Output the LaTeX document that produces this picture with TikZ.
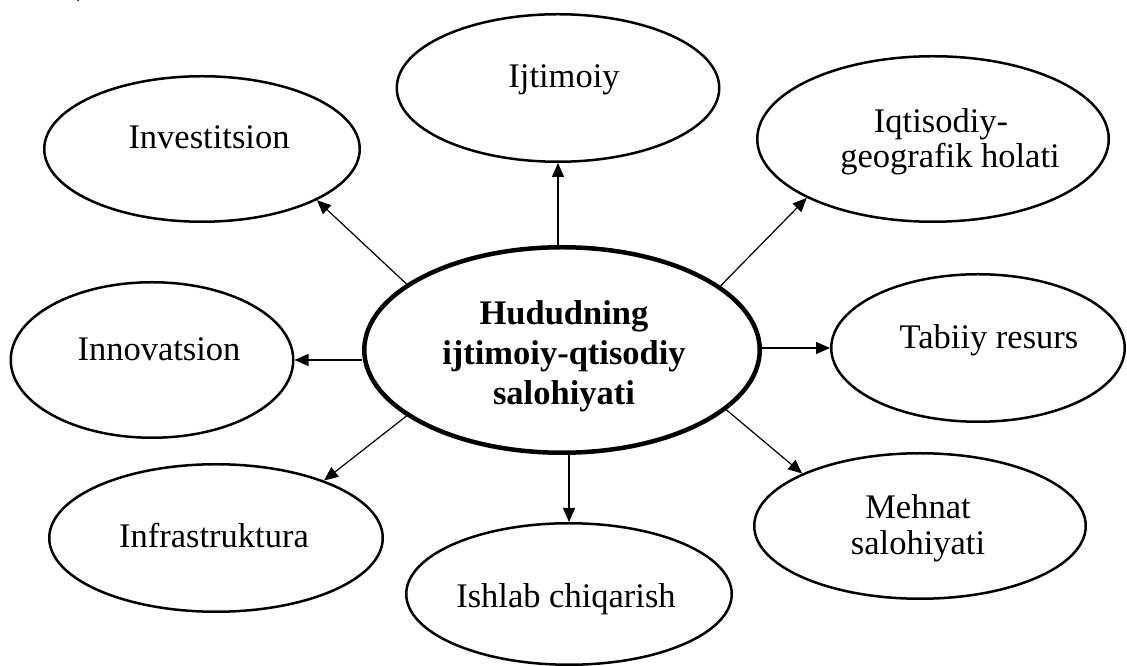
\documentclass[tikz,border=0pt]{standalone}
\usepackage{fontspec}
\setmainfont{Liberation Serif}
\usetikzlibrary{arrows.meta,shapes.geometric}
\begin{document}
\begin{tikzpicture}[x=1pt,y=1pt,
  oval/.style={draw, ellipse, line width=2.5pt, inner sep=0pt},
  mainoval/.style={oval, line width=4.5pt},
  lbl/.style={anchor=base, inner sep=0pt, font=\fontsize{34.5}{40}\selectfont},
  blbl/.style={anchor=base, inner sep=0pt, font=\fontsize{34.5}{40}\selectfont\bfseries},
  arr/.style={line width=1.2pt, -{Triangle[length=14pt,width=12pt]}}]
\useasboundingbox (0,0) rectangle (1127,666);
\fill[white] (0,0) rectangle (1127,666);

% ellipses
\node[mainoval, minimum width=395.5, minimum height=205.5] (c) at (562,316) {};
\node[oval, minimum width=322.5, minimum height=147.5] (ijt) at (558,578) {};
\node[oval, minimum width=315.5, minimum height=145.5] (inv) at (202,517) {};
\node[oval, minimum width=351.5, minimum height=165.5] (iq) at (933,527) {};
\node[oval, minimum width=282.5, minimum height=155.5] (inn) at (152,306) {};
\node[oval, minimum width=293.5, minimum height=147.5] (tab) at (978,318) {};
\node[oval, minimum width=333.5, minimum height=147.5] (inf) at (216,128) {};
\node[oval, minimum width=325.5, minimum height=141.5] (ish) at (569,72) {};
\node[oval, minimum width=331.5, minimum height=145.5] (meh) at (920,140) {};

% texts
\node[lbl] (paren) at (82,671) {)};
\node[lbl] (tinv) at (209,517) {Investitsion};
\node[lbl] (tijt) at (564,578) {Ijtimoiy};
\node[lbl] (tiq1) at (941,533) {Iqtisodiy-};
\node[lbl] (tiq2) at (950,498) {geografik holati};
\node[lbl] (tinn) at (159,305) {Innovatsion};
\node[lbl] (ttab) at (989,317) {Tabiiy resurs};
\node[lbl] (tinf) at (214,118) {Infrastruktura};
\node[lbl] (tish) at (566,58) {Ishlab chiqarish};
\node[lbl] (tmeh1) at (918,147) {Mehnat};
\node[lbl] (tmeh2) at (918,111) {salohiyati};
\node[blbl] (tc1) at (564,341) {Hududning};
\node[blbl] (tc2) at (564,301) {ijtimoiy-qtisodiy};
\node[blbl] (tc3) at (564,261) {salohiyati};

% arrows
\draw[arr] (c.157) -- (inv.336.6);
\draw[arr] (c.22) -- (iq.205);
\draw[arr] (c.203) -- (inf.28.5);
\draw[arr] (c.340) -- (meh.156);
\draw[arr] (ijt.south |- c.north) -- (ijt.south);
\draw[arr] (c.south -| ish.north) -- (ish.north);
\draw[arr] (c.west |- inn.east) -- (inn.east);
\draw[arr] (c.east |- tab.west) -- (tab.west);
\end{tikzpicture}
\end{document}
